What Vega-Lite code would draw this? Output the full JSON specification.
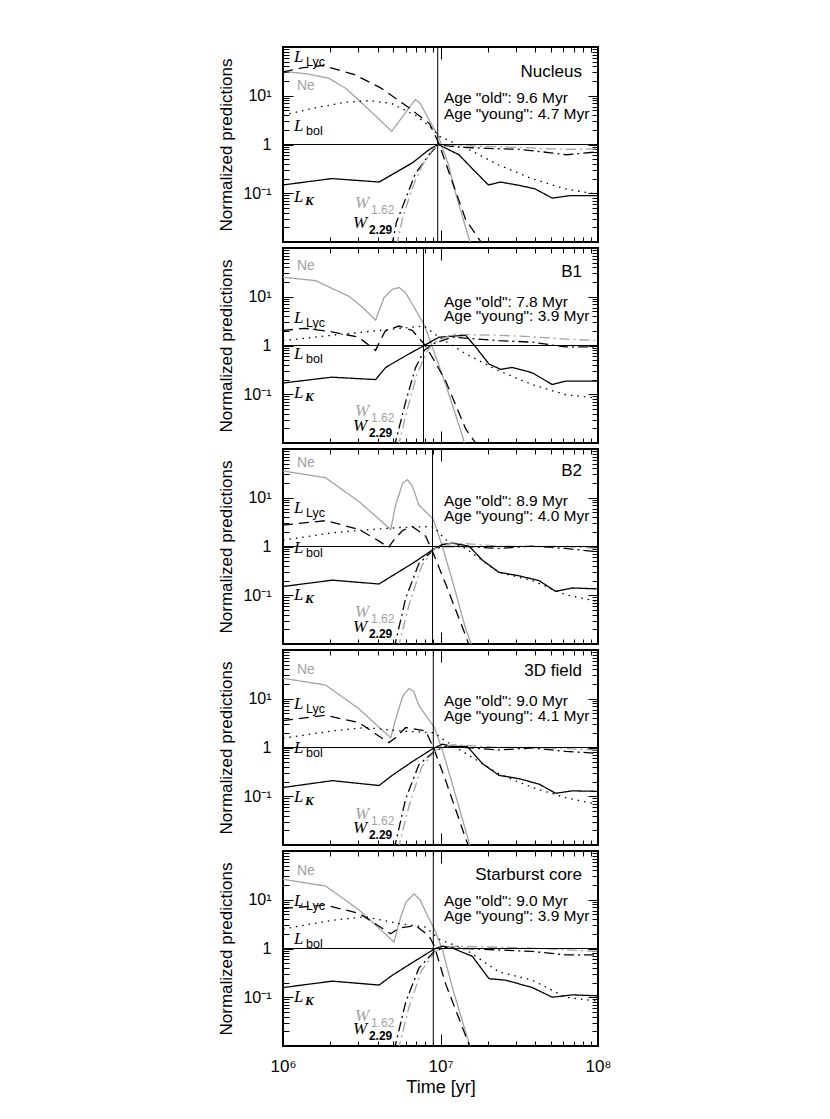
{
"$schema":"https://vega.github.io/schema/vega-lite/v6.json",
"autosize":{"type":"pad"},
"padding":{"left":216,"top":45,"right":5,"bottom":5},
"spacing":2,
"datasets":{
"panels":[
{"panel":"Nucleus","old":9600000},
{"panel":"B1","old":7800000},
{"panel":"B2","old":8900000},
{"panel":"3D","old":9000000},
{"panel":"SB","old":9000000}
],
"texts":[
{"panel":"Nucleus","role":"title","text":"Nucleus","t":79100000,"v":30.2},
{"panel":"Nucleus","role":"age","text":"Age \"old\": 9.6 Myr","t":10520000,"v":9.12},
{"panel":"Nucleus","role":"age","text":"Age \"young\": 4.7 Myr","t":10520000,"v":4.22},
{"panel":"Nucleus","role":"ne","series":"Ne","text":"Ne","t":1227000,"v":15.8},
{"panel":"Nucleus","role":"main","series":"LLyc","text":"L","sub":"Lyc","t":1175000,"v":63.1},
{"panel":"Nucleus","role":"main","series":"Lbol","text":"L","sub":"bol","t":1175000,"v":2.4},
{"panel":"Nucleus","role":"main","series":"LK","text":"L","sub":"K","t":1175000,"v":0.0851},
{"panel":"Nucleus","role":"main","series":"W162","text":"W","sub":"1.62","t":2864000,"v":0.0617},
{"panel":"Nucleus","role":"main","series":"W229","text":"W","sub":"2.29","t":2780000,"v":0.024},
{"panel":"B1","role":"title","text":"B1","t":79100000,"v":32.4},
{"panel":"B1","role":"age","text":"Age \"old\": 7.8 Myr","t":10520000,"v":7.76},
{"panel":"B1","role":"age","text":"Age \"young\": 3.9 Myr","t":10520000,"v":3.98},
{"panel":"B1","role":"ne","series":"Ne","text":"Ne","t":1227000,"v":43.2},
{"panel":"B1","role":"main","series":"LLyc","text":"L","sub":"Lyc","t":1175000,"v":3.72},
{"panel":"B1","role":"main","series":"Lbol","text":"L","sub":"bol","t":1175000,"v":0.676},
{"panel":"B1","role":"main","series":"LK","text":"L","sub":"K","t":1175000,"v":0.106},
{"panel":"B1","role":"main","series":"W162","text":"W","sub":"1.62","t":2864000,"v":0.0447},
{"panel":"B1","role":"main","series":"W229","text":"W","sub":"2.29","t":2780000,"v":0.0219},
{"panel":"B2","role":"title","text":"B2","t":79100000,"v":35.5},
{"panel":"B2","role":"age","text":"Age \"old\": 8.9 Myr","t":10520000,"v":8.51},
{"panel":"B2","role":"age","text":"Age \"young\": 4.0 Myr","t":10520000,"v":4.17},
{"panel":"B2","role":"ne","series":"Ne","text":"Ne","t":1227000,"v":52.5},
{"panel":"B2","role":"main","series":"LLyc","text":"L","sub":"Lyc","t":1175000,"v":6.17},
{"panel":"B2","role":"main","series":"Lbol","text":"L","sub":"bol","t":1175000,"v":0.933},
{"panel":"B2","role":"main","series":"LK","text":"L","sub":"K","t":1175000,"v":0.1},
{"panel":"B2","role":"main","series":"W162","text":"W","sub":"1.62","t":2864000,"v":0.0447},
{"panel":"B2","role":"main","series":"W229","text":"W","sub":"2.29","t":2780000,"v":0.0219},
{"panel":"3D","role":"title","text":"3D field","t":79100000,"v":37.2},
{"panel":"3D","role":"age","text":"Age \"old\": 9.0 Myr","t":10520000,"v":8.91},
{"panel":"3D","role":"age","text":"Age \"young\": 4.1 Myr","t":10520000,"v":4.37},
{"panel":"3D","role":"ne","series":"Ne","text":"Ne","t":1227000,"v":39.8},
{"panel":"3D","role":"main","series":"LLyc","text":"L","sub":"Lyc","t":1175000,"v":7.94},
{"panel":"3D","role":"main","series":"Lbol","text":"L","sub":"bol","t":1175000,"v":0.977},
{"panel":"3D","role":"main","series":"LK","text":"L","sub":"K","t":1175000,"v":0.0977},
{"panel":"3D","role":"main","series":"W162","text":"W","sub":"1.62","t":2864000,"v":0.0427},
{"panel":"3D","role":"main","series":"W229","text":"W","sub":"2.29","t":2780000,"v":0.0219},
{"panel":"SB","role":"title","text":"Starburst core","t":79100000,"v":32.0},
{"panel":"SB","role":"age","text":"Age \"old\": 9.0 Myr","t":10520000,"v":9.55},
{"panel":"SB","role":"age","text":"Age \"young\": 3.9 Myr","t":10520000,"v":4.68},
{"panel":"SB","role":"ne","series":"Ne","text":"Ne","t":1227000,"v":38.9},
{"panel":"SB","role":"main","series":"LLyc","text":"L","sub":"Lyc","t":1175000,"v":9.55},
{"panel":"SB","role":"main","series":"Lbol","text":"L","sub":"bol","t":1175000,"v":1.58},
{"panel":"SB","role":"main","series":"LK","text":"L","sub":"K","t":1175000,"v":0.1},
{"panel":"SB","role":"main","series":"W162","text":"W","sub":"1.62","t":2864000,"v":0.0422},
{"panel":"SB","role":"main","series":"W229","text":"W","sub":"2.29","t":2780000,"v":0.0219}
],
"lines":[
{"panel":"Nucleus","series":"Ne","t":1000000,"v":31.6},{"panel":"Nucleus","series":"Ne","t":1413000,"v":28.2},{"panel":"Nucleus","series":"Ne","t":1950000,"v":22.9},{"panel":"Nucleus","series":"Ne","t":2512000,"v":14.1},{"panel":"Nucleus","series":"Ne","t":3090000,"v":7.59},{"panel":"Nucleus","series":"Ne","t":3981000,"v":3.55},{"panel":"Nucleus","series":"Ne","t":4898000,"v":1.86},{"panel":"Nucleus","series":"Ne","t":5888000,"v":4.17},{"panel":"Nucleus","series":"Ne","t":6918000,"v":8.32},{"panel":"Nucleus","series":"Ne","t":7413000,"v":7.08},{"panel":"Nucleus","series":"Ne","t":8511000,"v":3.09},{"panel":"Nucleus","series":"Ne","t":9772000,"v":1.38},{"panel":"Nucleus","series":"Ne","t":11220000,"v":0.389},{"panel":"Nucleus","series":"Ne","t":12590000,"v":0.0891},{"panel":"Nucleus","series":"Ne","t":15490000,"v":0.00933},{"panel":"Nucleus","series":"Ne","t":16600000,"v":0.00398},
{"panel":"Nucleus","series":"LLyc","t":1000000,"v":30.9},{"panel":"Nucleus","series":"LLyc","t":1318000,"v":37.2},{"panel":"Nucleus","series":"LLyc","t":1778000,"v":41.7},{"panel":"Nucleus","series":"LLyc","t":2818000,"v":27.5},{"panel":"Nucleus","series":"LLyc","t":4169000,"v":14.5},{"panel":"Nucleus","series":"LLyc","t":6026000,"v":6.31},{"panel":"Nucleus","series":"LLyc","t":8511000,"v":2.69},{"panel":"Nucleus","series":"LLyc","t":9772000,"v":1.05},{"panel":"Nucleus","series":"LLyc","t":11890000,"v":0.17},{"panel":"Nucleus","series":"LLyc","t":14450000,"v":0.0288},{"panel":"Nucleus","series":"LLyc","t":18620000,"v":0.00871},{"panel":"Nucleus","series":"LLyc","t":19950000,"v":0.00501},
{"panel":"Nucleus","series":"Lbol","t":1000000,"v":3.98},{"panel":"Nucleus","series":"Lbol","t":1585000,"v":5.62},{"panel":"Nucleus","series":"Lbol","t":2512000,"v":7.41},{"panel":"Nucleus","series":"Lbol","t":3548000,"v":7.94},{"panel":"Nucleus","series":"Lbol","t":4898000,"v":6.92},{"panel":"Nucleus","series":"Lbol","t":7000000,"v":3.89},{"panel":"Nucleus","series":"Lbol","t":8913000,"v":2.09},{"panel":"Nucleus","series":"Lbol","t":9772000,"v":1.48},{"panel":"Nucleus","series":"Lbol","t":14450000,"v":0.851},{"panel":"Nucleus","series":"Lbol","t":23440000,"v":0.38},{"panel":"Nucleus","series":"Lbol","t":38020000,"v":0.2},{"panel":"Nucleus","series":"Lbol","t":61660000,"v":0.123},{"panel":"Nucleus","series":"Lbol","t":100000000,"v":0.0955},
{"panel":"Nucleus","series":"LK","t":1000000,"v":0.148},{"panel":"Nucleus","series":"LK","t":2042000,"v":0.2},{"panel":"Nucleus","series":"LK","t":4074000,"v":0.17},{"panel":"Nucleus","series":"LK","t":6607000,"v":0.417},{"panel":"Nucleus","series":"LK","t":8511000,"v":0.794},{"panel":"Nucleus","series":"LK","t":9683000,"v":1.0},{"panel":"Nucleus","series":"LK","t":13090000,"v":0.617},{"panel":"Nucleus","series":"LK","t":15850000,"v":0.324},{"panel":"Nucleus","series":"LK","t":20140000,"v":0.148},{"panel":"Nucleus","series":"LK","t":23990000,"v":0.17},{"panel":"Nucleus","series":"LK","t":31620000,"v":0.145},{"panel":"Nucleus","series":"LK","t":39810000,"v":0.123},{"panel":"Nucleus","series":"LK","t":51290000,"v":0.0794},{"panel":"Nucleus","series":"LK","t":66070000,"v":0.0891},{"panel":"Nucleus","series":"LK","t":100000000,"v":0.0891},
{"panel":"Nucleus","series":"W229","t":4898000,"v":0.00794},{"panel":"Nucleus","series":"W229","t":5248000,"v":0.0251},{"panel":"Nucleus","series":"W229","t":6026000,"v":0.0794},{"panel":"Nucleus","series":"W229","t":6918000,"v":0.251},{"panel":"Nucleus","series":"W229","t":8511000,"v":0.631},{"panel":"Nucleus","series":"W229","t":9683000,"v":1.0},{"panel":"Nucleus","series":"W229","t":12590000,"v":0.891},{"panel":"Nucleus","series":"W229","t":19950000,"v":0.832},{"panel":"Nucleus","series":"W229","t":31620000,"v":0.794},{"panel":"Nucleus","series":"W229","t":50120000,"v":0.676},{"panel":"Nucleus","series":"W229","t":63100000,"v":0.617},{"panel":"Nucleus","series":"W229","t":100000000,"v":0.708},
{"panel":"Nucleus","series":"W162","t":5248000,"v":0.00794},{"panel":"Nucleus","series":"W162","t":5754000,"v":0.0316},{"panel":"Nucleus","series":"W162","t":6607000,"v":0.126},{"panel":"Nucleus","series":"W162","t":7586000,"v":0.355},{"panel":"Nucleus","series":"W162","t":8913000,"v":0.794},{"panel":"Nucleus","series":"W162","t":9683000,"v":1.0},{"panel":"Nucleus","series":"W162","t":15850000,"v":0.933},{"panel":"Nucleus","series":"W162","t":31620000,"v":0.871},{"panel":"Nucleus","series":"W162","t":63100000,"v":0.794},{"panel":"Nucleus","series":"W162","t":100000000,"v":0.813},
{"panel":"B1","series":"Ne","t":1000000,"v":25.1},{"panel":"B1","series":"Ne","t":1610000,"v":21.4},{"panel":"B1","series":"Ne","t":2624000,"v":10.2},{"panel":"B1","series":"Ne","t":3162000,"v":6.31},{"panel":"B1","series":"Ne","t":3873000,"v":3.31},{"panel":"B1","series":"Ne","t":4375000,"v":9.55},{"panel":"B1","series":"Ne","t":4943000,"v":14.1},{"panel":"B1","series":"Ne","t":5458000,"v":15.5},{"panel":"B1","series":"Ne","t":6012000,"v":12.0},{"panel":"B1","series":"Ne","t":6950000,"v":5.37},{"panel":"B1","series":"Ne","t":7889000,"v":2.63},{"panel":"B1","series":"Ne","t":8872000,"v":0.933},{"panel":"B1","series":"Ne","t":10790000,"v":0.158},{"panel":"B1","series":"Ne","t":13770000,"v":0.0141},{"panel":"B1","series":"Ne","t":14450000,"v":0.00741},
{"panel":"B1","series":"LLyc","t":1000000,"v":2.04},{"panel":"B1","series":"LLyc","t":1380000,"v":2.24},{"panel":"B1","series":"LLyc","t":2042000,"v":1.91},{"panel":"B1","series":"LLyc","t":3020000,"v":1.48},{"panel":"B1","series":"LLyc","t":3873000,"v":0.794},{"panel":"B1","series":"LLyc","t":4169000,"v":1.32},{"panel":"B1","series":"LLyc","t":4467000,"v":2.0},{"panel":"B1","series":"LLyc","t":5458000,"v":2.51},{"panel":"B1","series":"LLyc","t":6622000,"v":2.04},{"panel":"B1","series":"LLyc","t":7889000,"v":1.07},{"panel":"B1","series":"LLyc","t":8872000,"v":0.575},{"panel":"B1","series":"LLyc","t":10790000,"v":0.186},{"panel":"B1","series":"LLyc","t":14450000,"v":0.0195},{"panel":"B1","series":"LLyc","t":16710000,"v":0.01},{"panel":"B1","series":"LLyc","t":17780000,"v":0.00631},
{"panel":"B1","series":"Lbol","t":1000000,"v":1.26},{"panel":"B1","series":"Lbol","t":2042000,"v":1.62},{"panel":"B1","series":"Lbol","t":3350000,"v":1.91},{"panel":"B1","series":"Lbol","t":5458000,"v":2.24},{"panel":"B1","series":"Lbol","t":7889000,"v":2.51},{"panel":"B1","series":"Lbol","t":9772000,"v":1.48},{"panel":"B1","series":"Lbol","t":14450000,"v":0.676},{"panel":"B1","series":"Lbol","t":23500000,"v":0.302},{"panel":"B1","series":"Lbol","t":38280000,"v":0.158},{"panel":"B1","series":"Lbol","t":62370000,"v":0.0977},{"panel":"B1","series":"Lbol","t":100000000,"v":0.0832},
{"panel":"B1","series":"LK","t":1000000,"v":0.17},{"panel":"B1","series":"LK","t":2042000,"v":0.224},{"panel":"B1","series":"LK","t":3873000,"v":0.2},{"panel":"B1","series":"LK","t":4487000,"v":0.355},{"panel":"B1","series":"LK","t":6012000,"v":0.617},{"panel":"B1","series":"LK","t":7889000,"v":1.0},{"panel":"B1","series":"LK","t":9772000,"v":1.48},{"panel":"B1","series":"LK","t":11890000,"v":1.55},{"panel":"B1","series":"LK","t":14450000,"v":1.62},{"panel":"B1","series":"LK","t":16710000,"v":0.933},{"panel":"B1","series":"LK","t":20320000,"v":0.417},{"panel":"B1","series":"LK","t":24100000,"v":0.324},{"panel":"B1","series":"LK","t":28580000,"v":0.355},{"panel":"B1","series":"LK","t":38280000,"v":0.275},{"panel":"B1","series":"LK","t":51290000,"v":0.158},{"panel":"B1","series":"LK","t":62370000,"v":0.186},{"panel":"B1","series":"LK","t":100000000,"v":0.186},
{"panel":"B1","series":"W229","t":5070000,"v":0.00794},{"panel":"B1","series":"W229","t":6012000,"v":0.0708},{"panel":"B1","series":"W229","t":6950000,"v":0.355},{"panel":"B1","series":"W229","t":7889000,"v":0.794},{"panel":"B1","series":"W229","t":8872000,"v":1.07},{"panel":"B1","series":"W229","t":11890000,"v":1.48},{"panel":"B1","series":"W229","t":23500000,"v":1.26},{"panel":"B1","series":"W229","t":38280000,"v":1.17},{"panel":"B1","series":"W229","t":62370000,"v":0.933},{"panel":"B1","series":"W229","t":100000000,"v":0.933},
{"panel":"B1","series":"W162","t":5370000,"v":0.00794},{"panel":"B1","series":"W162","t":6166000,"v":0.0501},{"panel":"B1","series":"W162","t":7079000,"v":0.251},{"panel":"B1","series":"W162","t":8128000,"v":0.708},{"panel":"B1","series":"W162","t":8913000,"v":1.12},{"panel":"B1","series":"W162","t":11890000,"v":1.7},{"panel":"B1","series":"W162","t":23500000,"v":1.62},{"panel":"B1","series":"W162","t":38280000,"v":1.51},{"panel":"B1","series":"W162","t":63100000,"v":1.35},{"panel":"B1","series":"W162","t":100000000,"v":1.26},
{"panel":"B2","series":"Ne","t":1000000,"v":35.5},{"panel":"B2","series":"Ne","t":1866000,"v":25.7},{"panel":"B2","series":"Ne","t":3041000,"v":8.32},{"panel":"B2","series":"Ne","t":4831000,"v":2.24},{"panel":"B2","series":"Ne","t":5188000,"v":7.08},{"panel":"B2","series":"Ne","t":5754000,"v":20.0},{"panel":"B2","series":"Ne","t":6152000,"v":23.4},{"panel":"B2","series":"Ne","t":6607000,"v":17.8},{"panel":"B2","series":"Ne","t":7295000,"v":7.08},{"panel":"B2","series":"Ne","t":8995000,"v":3.63},{"panel":"B2","series":"Ne","t":10280000,"v":1.0},{"panel":"B2","series":"Ne","t":11890000,"v":0.2},{"panel":"B2","series":"Ne","t":14450000,"v":0.0204},{"panel":"B2","series":"Ne","t":15560000,"v":0.0107},{"panel":"B2","series":"Ne","t":16220000,"v":0.00631},
{"panel":"B2","series":"LLyc","t":1000000,"v":2.75},{"panel":"B2","series":"LLyc","t":1866000,"v":3.39},{"panel":"B2","series":"LLyc","t":3041000,"v":2.24},{"panel":"B2","series":"LLyc","t":4074000,"v":1.29},{"panel":"B2","series":"LLyc","t":4677000,"v":0.955},{"panel":"B2","series":"LLyc","t":5070000,"v":1.38},{"panel":"B2","series":"LLyc","t":5754000,"v":2.14},{"panel":"B2","series":"LLyc","t":6622000,"v":2.57},{"panel":"B2","series":"LLyc","t":8054000,"v":1.62},{"panel":"B2","series":"LLyc","t":8995000,"v":0.724},{"panel":"B2","series":"LLyc","t":10790000,"v":0.17},{"panel":"B2","series":"LLyc","t":14450000,"v":0.0148},{"panel":"B2","series":"LLyc","t":15850000,"v":0.00631},
{"panel":"B2","series":"Lbol","t":1000000,"v":1.35},{"panel":"B2","series":"Lbol","t":2056000,"v":1.91},{"panel":"B2","series":"Lbol","t":3350000,"v":2.19},{"panel":"B2","series":"Lbol","t":5458000,"v":2.45},{"panel":"B2","series":"Lbol","t":8995000,"v":2.57},{"panel":"B2","series":"Lbol","t":10790000,"v":1.38},{"panel":"B2","series":"Lbol","t":14450000,"v":0.912},{"panel":"B2","series":"Lbol","t":23500000,"v":0.295},{"panel":"B2","series":"Lbol","t":38280000,"v":0.2},{"panel":"B2","series":"Lbol","t":62370000,"v":0.102},{"panel":"B2","series":"Lbol","t":100000000,"v":0.0741},
{"panel":"B2","series":"LK","t":1000000,"v":0.151},{"panel":"B2","series":"LK","t":2056000,"v":0.204},{"panel":"B2","series":"LK","t":4074000,"v":0.17},{"panel":"B2","series":"LK","t":4943000,"v":0.251},{"panel":"B2","series":"LK","t":6622000,"v":0.447},{"panel":"B2","series":"LK","t":8995000,"v":0.871},{"panel":"B2","series":"LK","t":10280000,"v":1.1},{"panel":"B2","series":"LK","t":11890000,"v":1.17},{"panel":"B2","series":"LK","t":15170000,"v":1.02},{"panel":"B2","series":"LK","t":18450000,"v":0.525},{"panel":"B2","series":"LK","t":23500000,"v":0.295},{"panel":"B2","series":"LK","t":31480000,"v":0.251},{"panel":"B2","series":"LK","t":42170000,"v":0.2},{"panel":"B2","series":"LK","t":53830000,"v":0.12},{"panel":"B2","series":"LK","t":68710000,"v":0.141},{"panel":"B2","series":"LK","t":100000000,"v":0.135},
{"panel":"B2","series":"W229","t":5070000,"v":0.00794},{"panel":"B2","series":"W229","t":6012000,"v":0.0871},{"panel":"B2","series":"W229","t":7295000,"v":0.447},{"panel":"B2","series":"W229","t":8995000,"v":0.851},{"panel":"B2","series":"W229","t":10280000,"v":1.0},{"panel":"B2","series":"W229","t":14450000,"v":1.0},{"panel":"B2","series":"W229","t":23500000,"v":0.912},{"panel":"B2","series":"W229","t":38280000,"v":1.02},{"panel":"B2","series":"W229","t":62370000,"v":0.912},{"panel":"B2","series":"W229","t":100000000,"v":0.776},
{"panel":"B2","series":"W162","t":5370000,"v":0.00794},{"panel":"B2","series":"W162","t":6310000,"v":0.0631},{"panel":"B2","series":"W162","t":7586000,"v":0.398},{"panel":"B2","series":"W162","t":9120000,"v":0.891},{"panel":"B2","series":"W162","t":11890000,"v":1.2},{"panel":"B2","series":"W162","t":23440000,"v":1.02},{"panel":"B2","series":"W162","t":39810000,"v":1.0},{"panel":"B2","series":"W162","t":63100000,"v":1.0},{"panel":"B2","series":"W162","t":100000000,"v":0.912},
{"panel":"3D","series":"Ne","t":1000000,"v":26.3},{"panel":"3D","series":"Ne","t":1866000,"v":19.1},{"panel":"3D","series":"Ne","t":3041000,"v":6.17},{"panel":"3D","series":"Ne","t":4831000,"v":1.58},{"panel":"3D","series":"Ne","t":5188000,"v":3.8},{"panel":"3D","series":"Ne","t":5754000,"v":11.2},{"panel":"3D","series":"Ne","t":6310000,"v":16.2},{"panel":"3D","series":"Ne","t":6761000,"v":14.1},{"panel":"3D","series":"Ne","t":7295000,"v":7.24},{"panel":"3D","series":"Ne","t":9141000,"v":2.57},{"panel":"3D","series":"Ne","t":10280000,"v":0.891},{"panel":"3D","series":"Ne","t":11890000,"v":0.178},{"panel":"3D","series":"Ne","t":15170000,"v":0.0115},{"panel":"3D","series":"Ne","t":15850000,"v":0.00631},
{"panel":"3D","series":"LLyc","t":1000000,"v":3.55},{"panel":"3D","series":"LLyc","t":1866000,"v":4.57},{"panel":"3D","series":"LLyc","t":3041000,"v":3.24},{"panel":"3D","series":"LLyc","t":4074000,"v":1.7},{"panel":"3D","series":"LLyc","t":4699000,"v":1.26},{"panel":"3D","series":"LLyc","t":5188000,"v":1.58},{"panel":"3D","series":"LLyc","t":6012000,"v":2.57},{"panel":"3D","series":"LLyc","t":8054000,"v":2.19},{"panel":"3D","series":"LLyc","t":9141000,"v":0.891},{"panel":"3D","series":"LLyc","t":10790000,"v":0.209},{"panel":"3D","series":"LLyc","t":14450000,"v":0.0135},{"panel":"3D","series":"LLyc","t":15850000,"v":0.00631},
{"panel":"3D","series":"Lbol","t":1000000,"v":1.55},{"panel":"3D","series":"Lbol","t":2056000,"v":2.19},{"panel":"3D","series":"Lbol","t":3350000,"v":2.57},{"panel":"3D","series":"Lbol","t":5458000,"v":2.19},{"panel":"3D","series":"Lbol","t":9141000,"v":2.0},{"panel":"3D","series":"Lbol","t":10790000,"v":1.35},{"panel":"3D","series":"Lbol","t":14450000,"v":0.759},{"panel":"3D","series":"Lbol","t":23500000,"v":0.288},{"panel":"3D","series":"Lbol","t":38280000,"v":0.151},{"panel":"3D","series":"Lbol","t":62370000,"v":0.0933},{"panel":"3D","series":"Lbol","t":100000000,"v":0.0676},
{"panel":"3D","series":"LK","t":1000000,"v":0.151},{"panel":"3D","series":"LK","t":2056000,"v":0.209},{"panel":"3D","series":"LK","t":4074000,"v":0.166},{"panel":"3D","series":"LK","t":4943000,"v":0.269},{"panel":"3D","series":"LK","t":6622000,"v":0.513},{"panel":"3D","series":"LK","t":8872000,"v":0.933},{"panel":"3D","series":"LK","t":10280000,"v":1.17},{"panel":"3D","series":"LK","t":11890000,"v":1.05},{"panel":"3D","series":"LK","t":14790000,"v":1.05},{"panel":"3D","series":"LK","t":18450000,"v":0.468},{"panel":"3D","series":"LK","t":23500000,"v":0.269},{"panel":"3D","series":"LK","t":31480000,"v":0.229},{"panel":"3D","series":"LK","t":42170000,"v":0.178},{"panel":"3D","series":"LK","t":53830000,"v":0.115},{"panel":"3D","series":"LK","t":68710000,"v":0.129},{"panel":"3D","series":"LK","t":100000000,"v":0.126},
{"panel":"3D","series":"W229","t":5070000,"v":0.00794},{"panel":"3D","series":"W229","t":6012000,"v":0.0891},{"panel":"3D","series":"W229","t":7295000,"v":0.447},{"panel":"3D","series":"W229","t":9141000,"v":0.832},{"panel":"3D","series":"W229","t":10790000,"v":1.05},{"panel":"3D","series":"W229","t":14450000,"v":1.0},{"panel":"3D","series":"W229","t":23500000,"v":0.891},{"panel":"3D","series":"W229","t":38280000,"v":0.977},{"panel":"3D","series":"W229","t":62370000,"v":0.832},{"panel":"3D","series":"W229","t":100000000,"v":0.759},
{"panel":"3D","series":"W162","t":5370000,"v":0.00794},{"panel":"3D","series":"W162","t":6310000,"v":0.0631},{"panel":"3D","series":"W162","t":7586000,"v":0.398},{"panel":"3D","series":"W162","t":9333000,"v":0.891},{"panel":"3D","series":"W162","t":11890000,"v":1.15},{"panel":"3D","series":"W162","t":23440000,"v":1.0},{"panel":"3D","series":"W162","t":39810000,"v":1.0},{"panel":"3D","series":"W162","t":100000000,"v":0.891},
{"panel":"SB","series":"Ne","t":1000000,"v":26.3},{"panel":"SB","series":"Ne","t":1866000,"v":19.1},{"panel":"SB","series":"Ne","t":3041000,"v":6.17},{"panel":"SB","series":"Ne","t":5070000,"v":1.35},{"panel":"SB","series":"Ne","t":5458000,"v":3.47},{"panel":"SB","series":"Ne","t":6026000,"v":8.91},{"panel":"SB","series":"Ne","t":6792000,"v":13.2},{"panel":"SB","series":"Ne","t":7413000,"v":10.0},{"panel":"SB","series":"Ne","t":8453000,"v":4.07},{"panel":"SB","series":"Ne","t":9141000,"v":2.51},{"panel":"SB","series":"Ne","t":10280000,"v":0.955},{"panel":"SB","series":"Ne","t":11890000,"v":0.158},{"panel":"SB","series":"Ne","t":15560000,"v":0.00871},{"panel":"SB","series":"Ne","t":16220000,"v":0.00501},
{"panel":"SB","series":"LLyc","t":1000000,"v":6.61},{"panel":"SB","series":"LLyc","t":1866000,"v":7.76},{"panel":"SB","series":"LLyc","t":3041000,"v":5.25},{"panel":"SB","series":"LLyc","t":4831000,"v":2.0},{"panel":"SB","series":"LLyc","t":5458000,"v":2.63},{"panel":"SB","series":"LLyc","t":6950000,"v":2.95},{"panel":"SB","series":"LLyc","t":8453000,"v":1.82},{"panel":"SB","series":"LLyc","t":9141000,"v":1.12},{"panel":"SB","series":"LLyc","t":10790000,"v":0.186},{"panel":"SB","series":"LLyc","t":15560000,"v":0.00871},{"panel":"SB","series":"LLyc","t":16220000,"v":0.00631},
{"panel":"SB","series":"Lbol","t":1000000,"v":2.51},{"panel":"SB","series":"Lbol","t":2056000,"v":3.8},{"panel":"SB","series":"Lbol","t":3350000,"v":4.47},{"panel":"SB","series":"Lbol","t":5458000,"v":3.24},{"panel":"SB","series":"Lbol","t":8054000,"v":2.75},{"panel":"SB","series":"Lbol","t":9772000,"v":1.55},{"panel":"SB","series":"Lbol","t":14450000,"v":0.955},{"panel":"SB","series":"Lbol","t":23500000,"v":0.331},{"panel":"SB","series":"Lbol","t":38280000,"v":0.224},{"panel":"SB","series":"Lbol","t":62370000,"v":0.1},{"panel":"SB","series":"Lbol","t":100000000,"v":0.0832},
{"panel":"SB","series":"LK","t":1000000,"v":0.158},{"panel":"SB","series":"LK","t":2056000,"v":0.214},{"panel":"SB","series":"LK","t":4074000,"v":0.178},{"panel":"SB","series":"LK","t":4943000,"v":0.282},{"panel":"SB","series":"LK","t":6622000,"v":0.513},{"panel":"SB","series":"LK","t":9141000,"v":0.977},{"panel":"SB","series":"LK","t":10280000,"v":1.12},{"panel":"SB","series":"LK","t":11890000,"v":1.02},{"panel":"SB","series":"LK","t":15920000,"v":0.692},{"panel":"SB","series":"LK","t":20320000,"v":0.24},{"panel":"SB","series":"LK","t":25940000,"v":0.224},{"panel":"SB","series":"LK","t":38280000,"v":0.158},{"panel":"SB","series":"LK","t":51290000,"v":0.1},{"panel":"SB","series":"LK","t":68710000,"v":0.112},{"panel":"SB","series":"LK","t":100000000,"v":0.107},
{"panel":"SB","series":"W229","t":5070000,"v":0.00794},{"panel":"SB","series":"W229","t":6012000,"v":0.0794},{"panel":"SB","series":"W229","t":7295000,"v":0.398},{"panel":"SB","series":"W229","t":9141000,"v":0.871},{"panel":"SB","series":"W229","t":10790000,"v":1.05},{"panel":"SB","series":"W229","t":14450000,"v":1.0},{"panel":"SB","series":"W229","t":38280000,"v":0.871},{"panel":"SB","series":"W229","t":62370000,"v":0.741},{"panel":"SB","series":"W229","t":100000000,"v":0.741},
{"panel":"SB","series":"W162","t":5370000,"v":0.00794},{"panel":"SB","series":"W162","t":6310000,"v":0.0631},{"panel":"SB","series":"W162","t":7586000,"v":0.355},{"panel":"SB","series":"W162","t":9333000,"v":0.891},{"panel":"SB","series":"W162","t":11890000,"v":1.1},{"panel":"SB","series":"W162","t":14450000,"v":1.1},{"panel":"SB","series":"W162","t":38280000,"v":1.02},{"panel":"SB","series":"W162","t":100000000,"v":0.871}
]
},
"vconcat":[
{"width":315,"height":195,"layer":[
{"data":{"name":"lines"},"transform":[{"filter":"datum.panel=='Nucleus'"}],"mark":{"type":"line","clip":true,"strokeWidth":1.3},"encoding":{"x":{"field":"t","type":"quantitative","scale":{"type":"log","domain":[1000000,100000000]},"axis":{"orient":"bottom","values":[1000000,2000000,3000000,4000000,5000000,6000000,7000000,8000000,9000000,10000000,20000000,30000000,40000000,50000000,60000000,70000000,80000000,90000000,100000000],"labels":false,"title":null,"tickSize":{"condition":{"test":"datum.value==1000000||datum.value==10000000||datum.value==100000000","value":-12},"value":-5}}},"y":{"field":"v","type":"quantitative","scale":{"type":"log","domain":[0.01,100]},"axis":{"orient":"left","values":[0.02,0.03,0.04,0.05,0.06,0.07,0.08,0.09,0.1,0.2,0.3,0.4,0.5,0.6,0.7,0.8,0.9,1,2,3,4,5,6,7,8,9,10,20,30,40,50,60,70,80,90],"labelExpr":"datum.value==10?'10¹':datum.value==1?'1':datum.value==0.1?'10⁻¹':''","labelFontSize":{"condition":{"test":"datum.value==0.1||datum.value==1||datum.value==10","value":16},"value":0},"labelPadding":22,"title":"Normalized predictions","titlePadding":7,"tickSize":{"condition":{"test":"datum.value==0.1||datum.value==1||datum.value==10","value":-10},"value":-6}}},"color":{"field":"series","type":"nominal","scale":{"domain":["Ne","LLyc","Lbol","LK","W162","W229"],"range":["#a3a3a3","black","black","black","#a3a3a3","black"]},"legend":null},"strokeDash":{"field":"series","type":"nominal","scale":{"domain":["Ne","LLyc","Lbol","LK","W162","W229"],"range":[[1,0],[10,6],[1.5,5],[1,0],[10,4,2,4],[10,4,2,4]]},"legend":null}}},
{"data":{"name":"panels"},"transform":[{"filter":"datum.panel=='Nucleus'"}],"mark":{"type":"rule","color":"black","strokeWidth":1},"encoding":{"x":{"field":"old","type":"quantitative","scale":{"type":"log","domain":[1000000,100000000]},"axis":{"orient":"top","values":[1000000,2000000,3000000,4000000,5000000,6000000,7000000,8000000,9000000,10000000,20000000,30000000,40000000,50000000,60000000,70000000,80000000,90000000,100000000],"labels":false,"title":null,"tickSize":{"condition":{"test":"datum.value==1000000||datum.value==10000000||datum.value==100000000","value":-12},"value":-5}}}}},
{"data":{"name":"panels"},"transform":[{"filter":"datum.panel=='Nucleus'"}],"mark":{"type":"rule","color":"black","strokeWidth":1},"encoding":{"y":{"datum":1,"type":"quantitative","scale":{"type":"log","domain":[0.01,100]},"axis":{"orient":"right","values":[0.02,0.03,0.04,0.05,0.06,0.07,0.08,0.09,0.1,0.2,0.3,0.4,0.5,0.6,0.7,0.8,0.9,1,2,3,4,5,6,7,8,9,10,20,30,40,50,60,70,80,90],"labels":false,"title":null,"tickSize":{"condition":{"test":"datum.value==0.1||datum.value==1||datum.value==10","value":-10},"value":-6}}}}},
{"data":{"name":"texts"},"transform":[{"filter":"datum.panel=='Nucleus' && datum.role=='title'"}],"mark":{"type":"text","align":"right","baseline":"middle","fontSize":17,"font":"Liberation Sans","color":"black"},"encoding":{"x":{"field":"t","type":"quantitative","scale":{"type":"log"},"axis":null},"y":{"field":"v","type":"quantitative","scale":{"type":"log"},"axis":null},"text":{"field":"text"}}},
{"data":{"name":"texts"},"transform":[{"filter":"datum.panel=='Nucleus' && datum.role=='age'"}],"mark":{"type":"text","align":"left","baseline":"middle","fontSize":15.5,"font":"Liberation Sans","color":"black"},"encoding":{"x":{"field":"t","type":"quantitative","scale":{"type":"log"},"axis":null},"y":{"field":"v","type":"quantitative","scale":{"type":"log"},"axis":null},"text":{"field":"text"}}},
{"data":{"name":"texts"},"transform":[{"filter":"datum.panel=='Nucleus' && datum.role=='ne'"}],"mark":{"type":"text","align":"left","baseline":"middle","fontSize":14,"font":"Liberation Sans","color":"#a3a3a3"},"encoding":{"x":{"field":"t","type":"quantitative","scale":{"type":"log"},"axis":null},"y":{"field":"v","type":"quantitative","scale":{"type":"log"},"axis":null},"text":{"field":"text"}}},
{"data":{"name":"texts"},"transform":[{"filter":"datum.panel=='Nucleus' && datum.role=='main'"}],"mark":{"type":"text","align":"left","baseline":"middle","fontSize":17,"font":"Liberation Serif","fontStyle":"italic"},"encoding":{"x":{"field":"t","type":"quantitative","scale":{"type":"log"},"axis":null},"y":{"field":"v","type":"quantitative","scale":{"type":"log"},"axis":null},"text":{"field":"text"},"color":{"field":"series","type":"nominal","legend":null}}},
{"data":{"name":"texts"},"transform":[{"filter":"datum.panel=='Nucleus' && (datum.series=='LLyc' || datum.series=='Lbol')"}],"mark":{"type":"text","align":"left","baseline":"middle","fontSize":12.5,"font":"Liberation Sans","color":"black","dx":12,"dy":5.5},"encoding":{"x":{"field":"t","type":"quantitative","scale":{"type":"log"},"axis":null},"y":{"field":"v","type":"quantitative","scale":{"type":"log"},"axis":null},"text":{"field":"sub"}}},
{"data":{"name":"texts"},"transform":[{"filter":"datum.panel=='Nucleus' && datum.series=='LK'"}],"mark":{"type":"text","align":"left","baseline":"middle","fontSize":13,"font":"Liberation Serif","fontStyle":"italic","fontWeight":"bold","color":"black","dx":11,"dy":4},"encoding":{"x":{"field":"t","type":"quantitative","scale":{"type":"log"},"axis":null},"y":{"field":"v","type":"quantitative","scale":{"type":"log"},"axis":null},"text":{"field":"sub"}}},
{"data":{"name":"texts"},"transform":[{"filter":"datum.panel=='Nucleus' && datum.series=='W162'"}],"mark":{"type":"text","align":"left","baseline":"middle","fontSize":12,"font":"Liberation Sans","color":"#a3a3a3","dx":16,"dy":7},"encoding":{"x":{"field":"t","type":"quantitative","scale":{"type":"log"},"axis":null},"y":{"field":"v","type":"quantitative","scale":{"type":"log"},"axis":null},"text":{"field":"sub"}}},
{"data":{"name":"texts"},"transform":[{"filter":"datum.panel=='Nucleus' && datum.series=='W229'"}],"mark":{"type":"text","align":"left","baseline":"middle","fontSize":12,"font":"Liberation Sans","fontWeight":"bold","color":"black","dx":16,"dy":7},"encoding":{"x":{"field":"t","type":"quantitative","scale":{"type":"log"},"axis":null},"y":{"field":"v","type":"quantitative","scale":{"type":"log"},"axis":null},"text":{"field":"sub"}}}
],"resolve":{"axis":{"x":"independent","y":"independent"}}},
{"width":315,"height":195,"layer":[
{"data":{"name":"lines"},"transform":[{"filter":"datum.panel=='B1'"}],"mark":{"type":"line","clip":true,"strokeWidth":1.3},"encoding":{"x":{"field":"t","type":"quantitative","scale":{"type":"log","domain":[1000000,100000000]},"axis":{"orient":"bottom","values":[1000000,2000000,3000000,4000000,5000000,6000000,7000000,8000000,9000000,10000000,20000000,30000000,40000000,50000000,60000000,70000000,80000000,90000000,100000000],"labels":false,"title":null,"tickSize":{"condition":{"test":"datum.value==1000000||datum.value==10000000||datum.value==100000000","value":-12},"value":-5}}},"y":{"field":"v","type":"quantitative","scale":{"type":"log","domain":[0.01,100]},"axis":{"orient":"left","values":[0.02,0.03,0.04,0.05,0.06,0.07,0.08,0.09,0.1,0.2,0.3,0.4,0.5,0.6,0.7,0.8,0.9,1,2,3,4,5,6,7,8,9,10,20,30,40,50,60,70,80,90],"labelExpr":"datum.value==10?'10¹':datum.value==1?'1':datum.value==0.1?'10⁻¹':''","labelFontSize":{"condition":{"test":"datum.value==0.1||datum.value==1||datum.value==10","value":16},"value":0},"labelPadding":22,"title":"Normalized predictions","titlePadding":7,"tickSize":{"condition":{"test":"datum.value==0.1||datum.value==1||datum.value==10","value":-10},"value":-6}}},"color":{"field":"series","type":"nominal","scale":{"domain":["Ne","LLyc","Lbol","LK","W162","W229"],"range":["#a3a3a3","black","black","black","#a3a3a3","black"]},"legend":null},"strokeDash":{"field":"series","type":"nominal","scale":{"domain":["Ne","LLyc","Lbol","LK","W162","W229"],"range":[[1,0],[10,6],[1.5,5],[1,0],[10,4,2,4],[10,4,2,4]]},"legend":null}}},
{"data":{"name":"panels"},"transform":[{"filter":"datum.panel=='B1'"}],"mark":{"type":"rule","color":"black","strokeWidth":1},"encoding":{"x":{"field":"old","type":"quantitative","scale":{"type":"log","domain":[1000000,100000000]},"axis":{"orient":"top","values":[1000000,2000000,3000000,4000000,5000000,6000000,7000000,8000000,9000000,10000000,20000000,30000000,40000000,50000000,60000000,70000000,80000000,90000000,100000000],"labels":false,"title":null,"tickSize":{"condition":{"test":"datum.value==1000000||datum.value==10000000||datum.value==100000000","value":-12},"value":-5}}}}},
{"data":{"name":"panels"},"transform":[{"filter":"datum.panel=='B1'"}],"mark":{"type":"rule","color":"black","strokeWidth":1},"encoding":{"y":{"datum":1,"type":"quantitative","scale":{"type":"log","domain":[0.01,100]},"axis":{"orient":"right","values":[0.02,0.03,0.04,0.05,0.06,0.07,0.08,0.09,0.1,0.2,0.3,0.4,0.5,0.6,0.7,0.8,0.9,1,2,3,4,5,6,7,8,9,10,20,30,40,50,60,70,80,90],"labels":false,"title":null,"tickSize":{"condition":{"test":"datum.value==0.1||datum.value==1||datum.value==10","value":-10},"value":-6}}}}},
{"data":{"name":"texts"},"transform":[{"filter":"datum.panel=='B1' && datum.role=='title'"}],"mark":{"type":"text","align":"right","baseline":"middle","fontSize":17,"font":"Liberation Sans","color":"black"},"encoding":{"x":{"field":"t","type":"quantitative","scale":{"type":"log"},"axis":null},"y":{"field":"v","type":"quantitative","scale":{"type":"log"},"axis":null},"text":{"field":"text"}}},
{"data":{"name":"texts"},"transform":[{"filter":"datum.panel=='B1' && datum.role=='age'"}],"mark":{"type":"text","align":"left","baseline":"middle","fontSize":15.5,"font":"Liberation Sans","color":"black"},"encoding":{"x":{"field":"t","type":"quantitative","scale":{"type":"log"},"axis":null},"y":{"field":"v","type":"quantitative","scale":{"type":"log"},"axis":null},"text":{"field":"text"}}},
{"data":{"name":"texts"},"transform":[{"filter":"datum.panel=='B1' && datum.role=='ne'"}],"mark":{"type":"text","align":"left","baseline":"middle","fontSize":14,"font":"Liberation Sans","color":"#a3a3a3"},"encoding":{"x":{"field":"t","type":"quantitative","scale":{"type":"log"},"axis":null},"y":{"field":"v","type":"quantitative","scale":{"type":"log"},"axis":null},"text":{"field":"text"}}},
{"data":{"name":"texts"},"transform":[{"filter":"datum.panel=='B1' && datum.role=='main'"}],"mark":{"type":"text","align":"left","baseline":"middle","fontSize":17,"font":"Liberation Serif","fontStyle":"italic"},"encoding":{"x":{"field":"t","type":"quantitative","scale":{"type":"log"},"axis":null},"y":{"field":"v","type":"quantitative","scale":{"type":"log"},"axis":null},"text":{"field":"text"},"color":{"field":"series","type":"nominal","legend":null}}},
{"data":{"name":"texts"},"transform":[{"filter":"datum.panel=='B1' && (datum.series=='LLyc' || datum.series=='Lbol')"}],"mark":{"type":"text","align":"left","baseline":"middle","fontSize":12.5,"font":"Liberation Sans","color":"black","dx":12,"dy":5.5},"encoding":{"x":{"field":"t","type":"quantitative","scale":{"type":"log"},"axis":null},"y":{"field":"v","type":"quantitative","scale":{"type":"log"},"axis":null},"text":{"field":"sub"}}},
{"data":{"name":"texts"},"transform":[{"filter":"datum.panel=='B1' && datum.series=='LK'"}],"mark":{"type":"text","align":"left","baseline":"middle","fontSize":13,"font":"Liberation Serif","fontStyle":"italic","fontWeight":"bold","color":"black","dx":11,"dy":4},"encoding":{"x":{"field":"t","type":"quantitative","scale":{"type":"log"},"axis":null},"y":{"field":"v","type":"quantitative","scale":{"type":"log"},"axis":null},"text":{"field":"sub"}}},
{"data":{"name":"texts"},"transform":[{"filter":"datum.panel=='B1' && datum.series=='W162'"}],"mark":{"type":"text","align":"left","baseline":"middle","fontSize":12,"font":"Liberation Sans","color":"#a3a3a3","dx":16,"dy":7},"encoding":{"x":{"field":"t","type":"quantitative","scale":{"type":"log"},"axis":null},"y":{"field":"v","type":"quantitative","scale":{"type":"log"},"axis":null},"text":{"field":"sub"}}},
{"data":{"name":"texts"},"transform":[{"filter":"datum.panel=='B1' && datum.series=='W229'"}],"mark":{"type":"text","align":"left","baseline":"middle","fontSize":12,"font":"Liberation Sans","fontWeight":"bold","color":"black","dx":16,"dy":7},"encoding":{"x":{"field":"t","type":"quantitative","scale":{"type":"log"},"axis":null},"y":{"field":"v","type":"quantitative","scale":{"type":"log"},"axis":null},"text":{"field":"sub"}}}
],"resolve":{"axis":{"x":"independent","y":"independent"}}},
{"width":315,"height":195,"layer":[
{"data":{"name":"lines"},"transform":[{"filter":"datum.panel=='B2'"}],"mark":{"type":"line","clip":true,"strokeWidth":1.3},"encoding":{"x":{"field":"t","type":"quantitative","scale":{"type":"log","domain":[1000000,100000000]},"axis":{"orient":"bottom","values":[1000000,2000000,3000000,4000000,5000000,6000000,7000000,8000000,9000000,10000000,20000000,30000000,40000000,50000000,60000000,70000000,80000000,90000000,100000000],"labels":false,"title":null,"tickSize":{"condition":{"test":"datum.value==1000000||datum.value==10000000||datum.value==100000000","value":-12},"value":-5}}},"y":{"field":"v","type":"quantitative","scale":{"type":"log","domain":[0.01,100]},"axis":{"orient":"left","values":[0.02,0.03,0.04,0.05,0.06,0.07,0.08,0.09,0.1,0.2,0.3,0.4,0.5,0.6,0.7,0.8,0.9,1,2,3,4,5,6,7,8,9,10,20,30,40,50,60,70,80,90],"labelExpr":"datum.value==10?'10¹':datum.value==1?'1':datum.value==0.1?'10⁻¹':''","labelFontSize":{"condition":{"test":"datum.value==0.1||datum.value==1||datum.value==10","value":16},"value":0},"labelPadding":22,"title":"Normalized predictions","titlePadding":7,"tickSize":{"condition":{"test":"datum.value==0.1||datum.value==1||datum.value==10","value":-10},"value":-6}}},"color":{"field":"series","type":"nominal","scale":{"domain":["Ne","LLyc","Lbol","LK","W162","W229"],"range":["#a3a3a3","black","black","black","#a3a3a3","black"]},"legend":null},"strokeDash":{"field":"series","type":"nominal","scale":{"domain":["Ne","LLyc","Lbol","LK","W162","W229"],"range":[[1,0],[10,6],[1.5,5],[1,0],[10,4,2,4],[10,4,2,4]]},"legend":null}}},
{"data":{"name":"panels"},"transform":[{"filter":"datum.panel=='B2'"}],"mark":{"type":"rule","color":"black","strokeWidth":1},"encoding":{"x":{"field":"old","type":"quantitative","scale":{"type":"log","domain":[1000000,100000000]},"axis":{"orient":"top","values":[1000000,2000000,3000000,4000000,5000000,6000000,7000000,8000000,9000000,10000000,20000000,30000000,40000000,50000000,60000000,70000000,80000000,90000000,100000000],"labels":false,"title":null,"tickSize":{"condition":{"test":"datum.value==1000000||datum.value==10000000||datum.value==100000000","value":-12},"value":-5}}}}},
{"data":{"name":"panels"},"transform":[{"filter":"datum.panel=='B2'"}],"mark":{"type":"rule","color":"black","strokeWidth":1},"encoding":{"y":{"datum":1,"type":"quantitative","scale":{"type":"log","domain":[0.01,100]},"axis":{"orient":"right","values":[0.02,0.03,0.04,0.05,0.06,0.07,0.08,0.09,0.1,0.2,0.3,0.4,0.5,0.6,0.7,0.8,0.9,1,2,3,4,5,6,7,8,9,10,20,30,40,50,60,70,80,90],"labels":false,"title":null,"tickSize":{"condition":{"test":"datum.value==0.1||datum.value==1||datum.value==10","value":-10},"value":-6}}}}},
{"data":{"name":"texts"},"transform":[{"filter":"datum.panel=='B2' && datum.role=='title'"}],"mark":{"type":"text","align":"right","baseline":"middle","fontSize":17,"font":"Liberation Sans","color":"black"},"encoding":{"x":{"field":"t","type":"quantitative","scale":{"type":"log"},"axis":null},"y":{"field":"v","type":"quantitative","scale":{"type":"log"},"axis":null},"text":{"field":"text"}}},
{"data":{"name":"texts"},"transform":[{"filter":"datum.panel=='B2' && datum.role=='age'"}],"mark":{"type":"text","align":"left","baseline":"middle","fontSize":15.5,"font":"Liberation Sans","color":"black"},"encoding":{"x":{"field":"t","type":"quantitative","scale":{"type":"log"},"axis":null},"y":{"field":"v","type":"quantitative","scale":{"type":"log"},"axis":null},"text":{"field":"text"}}},
{"data":{"name":"texts"},"transform":[{"filter":"datum.panel=='B2' && datum.role=='ne'"}],"mark":{"type":"text","align":"left","baseline":"middle","fontSize":14,"font":"Liberation Sans","color":"#a3a3a3"},"encoding":{"x":{"field":"t","type":"quantitative","scale":{"type":"log"},"axis":null},"y":{"field":"v","type":"quantitative","scale":{"type":"log"},"axis":null},"text":{"field":"text"}}},
{"data":{"name":"texts"},"transform":[{"filter":"datum.panel=='B2' && datum.role=='main'"}],"mark":{"type":"text","align":"left","baseline":"middle","fontSize":17,"font":"Liberation Serif","fontStyle":"italic"},"encoding":{"x":{"field":"t","type":"quantitative","scale":{"type":"log"},"axis":null},"y":{"field":"v","type":"quantitative","scale":{"type":"log"},"axis":null},"text":{"field":"text"},"color":{"field":"series","type":"nominal","legend":null}}},
{"data":{"name":"texts"},"transform":[{"filter":"datum.panel=='B2' && (datum.series=='LLyc' || datum.series=='Lbol')"}],"mark":{"type":"text","align":"left","baseline":"middle","fontSize":12.5,"font":"Liberation Sans","color":"black","dx":12,"dy":5.5},"encoding":{"x":{"field":"t","type":"quantitative","scale":{"type":"log"},"axis":null},"y":{"field":"v","type":"quantitative","scale":{"type":"log"},"axis":null},"text":{"field":"sub"}}},
{"data":{"name":"texts"},"transform":[{"filter":"datum.panel=='B2' && datum.series=='LK'"}],"mark":{"type":"text","align":"left","baseline":"middle","fontSize":13,"font":"Liberation Serif","fontStyle":"italic","fontWeight":"bold","color":"black","dx":11,"dy":4},"encoding":{"x":{"field":"t","type":"quantitative","scale":{"type":"log"},"axis":null},"y":{"field":"v","type":"quantitative","scale":{"type":"log"},"axis":null},"text":{"field":"sub"}}},
{"data":{"name":"texts"},"transform":[{"filter":"datum.panel=='B2' && datum.series=='W162'"}],"mark":{"type":"text","align":"left","baseline":"middle","fontSize":12,"font":"Liberation Sans","color":"#a3a3a3","dx":16,"dy":7},"encoding":{"x":{"field":"t","type":"quantitative","scale":{"type":"log"},"axis":null},"y":{"field":"v","type":"quantitative","scale":{"type":"log"},"axis":null},"text":{"field":"sub"}}},
{"data":{"name":"texts"},"transform":[{"filter":"datum.panel=='B2' && datum.series=='W229'"}],"mark":{"type":"text","align":"left","baseline":"middle","fontSize":12,"font":"Liberation Sans","fontWeight":"bold","color":"black","dx":16,"dy":7},"encoding":{"x":{"field":"t","type":"quantitative","scale":{"type":"log"},"axis":null},"y":{"field":"v","type":"quantitative","scale":{"type":"log"},"axis":null},"text":{"field":"sub"}}}
],"resolve":{"axis":{"x":"independent","y":"independent"}}},
{"width":315,"height":195,"layer":[
{"data":{"name":"lines"},"transform":[{"filter":"datum.panel=='3D'"}],"mark":{"type":"line","clip":true,"strokeWidth":1.3},"encoding":{"x":{"field":"t","type":"quantitative","scale":{"type":"log","domain":[1000000,100000000]},"axis":{"orient":"bottom","values":[1000000,2000000,3000000,4000000,5000000,6000000,7000000,8000000,9000000,10000000,20000000,30000000,40000000,50000000,60000000,70000000,80000000,90000000,100000000],"labels":false,"title":null,"tickSize":{"condition":{"test":"datum.value==1000000||datum.value==10000000||datum.value==100000000","value":-12},"value":-5}}},"y":{"field":"v","type":"quantitative","scale":{"type":"log","domain":[0.01,100]},"axis":{"orient":"left","values":[0.02,0.03,0.04,0.05,0.06,0.07,0.08,0.09,0.1,0.2,0.3,0.4,0.5,0.6,0.7,0.8,0.9,1,2,3,4,5,6,7,8,9,10,20,30,40,50,60,70,80,90],"labelExpr":"datum.value==10?'10¹':datum.value==1?'1':datum.value==0.1?'10⁻¹':''","labelFontSize":{"condition":{"test":"datum.value==0.1||datum.value==1||datum.value==10","value":16},"value":0},"labelPadding":22,"title":"Normalized predictions","titlePadding":7,"tickSize":{"condition":{"test":"datum.value==0.1||datum.value==1||datum.value==10","value":-10},"value":-6}}},"color":{"field":"series","type":"nominal","scale":{"domain":["Ne","LLyc","Lbol","LK","W162","W229"],"range":["#a3a3a3","black","black","black","#a3a3a3","black"]},"legend":null},"strokeDash":{"field":"series","type":"nominal","scale":{"domain":["Ne","LLyc","Lbol","LK","W162","W229"],"range":[[1,0],[10,6],[1.5,5],[1,0],[10,4,2,4],[10,4,2,4]]},"legend":null}}},
{"data":{"name":"panels"},"transform":[{"filter":"datum.panel=='3D'"}],"mark":{"type":"rule","color":"black","strokeWidth":1},"encoding":{"x":{"field":"old","type":"quantitative","scale":{"type":"log","domain":[1000000,100000000]},"axis":{"orient":"top","values":[1000000,2000000,3000000,4000000,5000000,6000000,7000000,8000000,9000000,10000000,20000000,30000000,40000000,50000000,60000000,70000000,80000000,90000000,100000000],"labels":false,"title":null,"tickSize":{"condition":{"test":"datum.value==1000000||datum.value==10000000||datum.value==100000000","value":-12},"value":-5}}}}},
{"data":{"name":"panels"},"transform":[{"filter":"datum.panel=='3D'"}],"mark":{"type":"rule","color":"black","strokeWidth":1},"encoding":{"y":{"datum":1,"type":"quantitative","scale":{"type":"log","domain":[0.01,100]},"axis":{"orient":"right","values":[0.02,0.03,0.04,0.05,0.06,0.07,0.08,0.09,0.1,0.2,0.3,0.4,0.5,0.6,0.7,0.8,0.9,1,2,3,4,5,6,7,8,9,10,20,30,40,50,60,70,80,90],"labels":false,"title":null,"tickSize":{"condition":{"test":"datum.value==0.1||datum.value==1||datum.value==10","value":-10},"value":-6}}}}},
{"data":{"name":"texts"},"transform":[{"filter":"datum.panel=='3D' && datum.role=='title'"}],"mark":{"type":"text","align":"right","baseline":"middle","fontSize":17,"font":"Liberation Sans","color":"black"},"encoding":{"x":{"field":"t","type":"quantitative","scale":{"type":"log"},"axis":null},"y":{"field":"v","type":"quantitative","scale":{"type":"log"},"axis":null},"text":{"field":"text"}}},
{"data":{"name":"texts"},"transform":[{"filter":"datum.panel=='3D' && datum.role=='age'"}],"mark":{"type":"text","align":"left","baseline":"middle","fontSize":15.5,"font":"Liberation Sans","color":"black"},"encoding":{"x":{"field":"t","type":"quantitative","scale":{"type":"log"},"axis":null},"y":{"field":"v","type":"quantitative","scale":{"type":"log"},"axis":null},"text":{"field":"text"}}},
{"data":{"name":"texts"},"transform":[{"filter":"datum.panel=='3D' && datum.role=='ne'"}],"mark":{"type":"text","align":"left","baseline":"middle","fontSize":14,"font":"Liberation Sans","color":"#a3a3a3"},"encoding":{"x":{"field":"t","type":"quantitative","scale":{"type":"log"},"axis":null},"y":{"field":"v","type":"quantitative","scale":{"type":"log"},"axis":null},"text":{"field":"text"}}},
{"data":{"name":"texts"},"transform":[{"filter":"datum.panel=='3D' && datum.role=='main'"}],"mark":{"type":"text","align":"left","baseline":"middle","fontSize":17,"font":"Liberation Serif","fontStyle":"italic"},"encoding":{"x":{"field":"t","type":"quantitative","scale":{"type":"log"},"axis":null},"y":{"field":"v","type":"quantitative","scale":{"type":"log"},"axis":null},"text":{"field":"text"},"color":{"field":"series","type":"nominal","legend":null}}},
{"data":{"name":"texts"},"transform":[{"filter":"datum.panel=='3D' && (datum.series=='LLyc' || datum.series=='Lbol')"}],"mark":{"type":"text","align":"left","baseline":"middle","fontSize":12.5,"font":"Liberation Sans","color":"black","dx":12,"dy":5.5},"encoding":{"x":{"field":"t","type":"quantitative","scale":{"type":"log"},"axis":null},"y":{"field":"v","type":"quantitative","scale":{"type":"log"},"axis":null},"text":{"field":"sub"}}},
{"data":{"name":"texts"},"transform":[{"filter":"datum.panel=='3D' && datum.series=='LK'"}],"mark":{"type":"text","align":"left","baseline":"middle","fontSize":13,"font":"Liberation Serif","fontStyle":"italic","fontWeight":"bold","color":"black","dx":11,"dy":4},"encoding":{"x":{"field":"t","type":"quantitative","scale":{"type":"log"},"axis":null},"y":{"field":"v","type":"quantitative","scale":{"type":"log"},"axis":null},"text":{"field":"sub"}}},
{"data":{"name":"texts"},"transform":[{"filter":"datum.panel=='3D' && datum.series=='W162'"}],"mark":{"type":"text","align":"left","baseline":"middle","fontSize":12,"font":"Liberation Sans","color":"#a3a3a3","dx":16,"dy":7},"encoding":{"x":{"field":"t","type":"quantitative","scale":{"type":"log"},"axis":null},"y":{"field":"v","type":"quantitative","scale":{"type":"log"},"axis":null},"text":{"field":"sub"}}},
{"data":{"name":"texts"},"transform":[{"filter":"datum.panel=='3D' && datum.series=='W229'"}],"mark":{"type":"text","align":"left","baseline":"middle","fontSize":12,"font":"Liberation Sans","fontWeight":"bold","color":"black","dx":16,"dy":7},"encoding":{"x":{"field":"t","type":"quantitative","scale":{"type":"log"},"axis":null},"y":{"field":"v","type":"quantitative","scale":{"type":"log"},"axis":null},"text":{"field":"sub"}}}
],"resolve":{"axis":{"x":"independent","y":"independent"}}},
{"width":315,"height":195,"layer":[
{"data":{"name":"lines"},"transform":[{"filter":"datum.panel=='SB'"}],"mark":{"type":"line","clip":true,"strokeWidth":1.3},"encoding":{"x":{"field":"t","type":"quantitative","scale":{"type":"log","domain":[1000000,100000000]},"axis":{"orient":"bottom","values":[1000000,2000000,3000000,4000000,5000000,6000000,7000000,8000000,9000000,10000000,20000000,30000000,40000000,50000000,60000000,70000000,80000000,90000000,100000000],"labelExpr":"datum.value==1000000?'10⁶':datum.value==10000000?'10⁷':datum.value==100000000?'10⁸':''","labelFontSize":{"condition":{"test":"datum.value==1000000||datum.value==10000000||datum.value==100000000","value":17},"value":0},"labelPadding":24,"title":"Time [yr]","titlePadding":4,"titleFontSize":18,"tickSize":{"condition":{"test":"datum.value==1000000||datum.value==10000000||datum.value==100000000","value":-12},"value":-5}}},"y":{"field":"v","type":"quantitative","scale":{"type":"log","domain":[0.01,100]},"axis":{"orient":"left","values":[0.02,0.03,0.04,0.05,0.06,0.07,0.08,0.09,0.1,0.2,0.3,0.4,0.5,0.6,0.7,0.8,0.9,1,2,3,4,5,6,7,8,9,10,20,30,40,50,60,70,80,90],"labelExpr":"datum.value==10?'10¹':datum.value==1?'1':datum.value==0.1?'10⁻¹':''","labelFontSize":{"condition":{"test":"datum.value==0.1||datum.value==1||datum.value==10","value":16},"value":0},"labelPadding":22,"title":"Normalized predictions","titlePadding":7,"tickSize":{"condition":{"test":"datum.value==0.1||datum.value==1||datum.value==10","value":-10},"value":-6}}},"color":{"field":"series","type":"nominal","scale":{"domain":["Ne","LLyc","Lbol","LK","W162","W229"],"range":["#a3a3a3","black","black","black","#a3a3a3","black"]},"legend":null},"strokeDash":{"field":"series","type":"nominal","scale":{"domain":["Ne","LLyc","Lbol","LK","W162","W229"],"range":[[1,0],[10,6],[1.5,5],[1,0],[10,4,2,4],[10,4,2,4]]},"legend":null}}},
{"data":{"name":"panels"},"transform":[{"filter":"datum.panel=='SB'"}],"mark":{"type":"rule","color":"black","strokeWidth":1},"encoding":{"x":{"field":"old","type":"quantitative","scale":{"type":"log","domain":[1000000,100000000]},"axis":{"orient":"top","values":[1000000,2000000,3000000,4000000,5000000,6000000,7000000,8000000,9000000,10000000,20000000,30000000,40000000,50000000,60000000,70000000,80000000,90000000,100000000],"labels":false,"title":null,"tickSize":{"condition":{"test":"datum.value==1000000||datum.value==10000000||datum.value==100000000","value":-12},"value":-5}}}}},
{"data":{"name":"panels"},"transform":[{"filter":"datum.panel=='SB'"}],"mark":{"type":"rule","color":"black","strokeWidth":1},"encoding":{"y":{"datum":1,"type":"quantitative","scale":{"type":"log","domain":[0.01,100]},"axis":{"orient":"right","values":[0.02,0.03,0.04,0.05,0.06,0.07,0.08,0.09,0.1,0.2,0.3,0.4,0.5,0.6,0.7,0.8,0.9,1,2,3,4,5,6,7,8,9,10,20,30,40,50,60,70,80,90],"labels":false,"title":null,"tickSize":{"condition":{"test":"datum.value==0.1||datum.value==1||datum.value==10","value":-10},"value":-6}}}}},
{"data":{"name":"texts"},"transform":[{"filter":"datum.panel=='SB' && datum.role=='title'"}],"mark":{"type":"text","align":"right","baseline":"middle","fontSize":17,"font":"Liberation Sans","color":"black"},"encoding":{"x":{"field":"t","type":"quantitative","scale":{"type":"log"},"axis":null},"y":{"field":"v","type":"quantitative","scale":{"type":"log"},"axis":null},"text":{"field":"text"}}},
{"data":{"name":"texts"},"transform":[{"filter":"datum.panel=='SB' && datum.role=='age'"}],"mark":{"type":"text","align":"left","baseline":"middle","fontSize":15.5,"font":"Liberation Sans","color":"black"},"encoding":{"x":{"field":"t","type":"quantitative","scale":{"type":"log"},"axis":null},"y":{"field":"v","type":"quantitative","scale":{"type":"log"},"axis":null},"text":{"field":"text"}}},
{"data":{"name":"texts"},"transform":[{"filter":"datum.panel=='SB' && datum.role=='ne'"}],"mark":{"type":"text","align":"left","baseline":"middle","fontSize":14,"font":"Liberation Sans","color":"#a3a3a3"},"encoding":{"x":{"field":"t","type":"quantitative","scale":{"type":"log"},"axis":null},"y":{"field":"v","type":"quantitative","scale":{"type":"log"},"axis":null},"text":{"field":"text"}}},
{"data":{"name":"texts"},"transform":[{"filter":"datum.panel=='SB' && datum.role=='main'"}],"mark":{"type":"text","align":"left","baseline":"middle","fontSize":17,"font":"Liberation Serif","fontStyle":"italic"},"encoding":{"x":{"field":"t","type":"quantitative","scale":{"type":"log"},"axis":null},"y":{"field":"v","type":"quantitative","scale":{"type":"log"},"axis":null},"text":{"field":"text"},"color":{"field":"series","type":"nominal","legend":null}}},
{"data":{"name":"texts"},"transform":[{"filter":"datum.panel=='SB' && (datum.series=='LLyc' || datum.series=='Lbol')"}],"mark":{"type":"text","align":"left","baseline":"middle","fontSize":12.5,"font":"Liberation Sans","color":"black","dx":12,"dy":5.5},"encoding":{"x":{"field":"t","type":"quantitative","scale":{"type":"log"},"axis":null},"y":{"field":"v","type":"quantitative","scale":{"type":"log"},"axis":null},"text":{"field":"sub"}}},
{"data":{"name":"texts"},"transform":[{"filter":"datum.panel=='SB' && datum.series=='LK'"}],"mark":{"type":"text","align":"left","baseline":"middle","fontSize":13,"font":"Liberation Serif","fontStyle":"italic","fontWeight":"bold","color":"black","dx":11,"dy":4},"encoding":{"x":{"field":"t","type":"quantitative","scale":{"type":"log"},"axis":null},"y":{"field":"v","type":"quantitative","scale":{"type":"log"},"axis":null},"text":{"field":"sub"}}},
{"data":{"name":"texts"},"transform":[{"filter":"datum.panel=='SB' && datum.series=='W162'"}],"mark":{"type":"text","align":"left","baseline":"middle","fontSize":12,"font":"Liberation Sans","color":"#a3a3a3","dx":16,"dy":7},"encoding":{"x":{"field":"t","type":"quantitative","scale":{"type":"log"},"axis":null},"y":{"field":"v","type":"quantitative","scale":{"type":"log"},"axis":null},"text":{"field":"sub"}}},
{"data":{"name":"texts"},"transform":[{"filter":"datum.panel=='SB' && datum.series=='W229'"}],"mark":{"type":"text","align":"left","baseline":"middle","fontSize":12,"font":"Liberation Sans","fontWeight":"bold","color":"black","dx":16,"dy":7},"encoding":{"x":{"field":"t","type":"quantitative","scale":{"type":"log"},"axis":null},"y":{"field":"v","type":"quantitative","scale":{"type":"log"},"axis":null},"text":{"field":"sub"}}}
],"resolve":{"axis":{"x":"independent","y":"independent"}}}
],
"config":{
"background":"white",
"view":{"stroke":"black","strokeWidth":2},
"axis":{"domain":false,"grid":false,"tickColor":"black","tickWidth":1,"labelFont":"Liberation Sans","labelFontSize":16,"labelColor":"black","titleFont":"Liberation Sans","titleFontSize":17,"titleFontWeight":"normal","titleColor":"black","labelFlush":false,"labelOverlap":false},
"text":{"font":"Liberation Sans"}
}
}
